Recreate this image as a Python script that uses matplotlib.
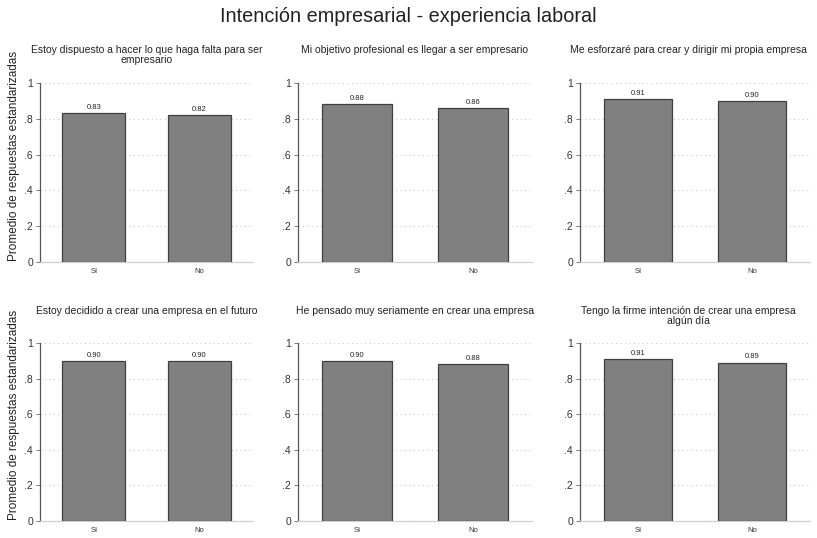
import matplotlib.pyplot as plt
import numpy as np

plt.rcParams['font.family'] = ['Liberation Sans', 'DejaVu Sans']

groups = ["Sí", "No"]
titles = ["Estoy dispuesto a hacer lo que haga falta para ser\nempresario",
          "Mi objetivo profesional es llegar a ser empresario",
          "Me esforzaré para crear y dirigir mi propia empresa",
          "Estoy decidido a crear una empresa en el futuro",
          "He pensado muy seriamente en crear una empresa",
          "Tengo la firme intención de crear una empresa\nalgún día"]
values = [[0.83, 0.82],
          [0.88, 0.86],
          [0.91, 0.90],
          [0.90, 0.90],
          [0.90, 0.88],
          [0.91, 0.89]]
yticks = [0, 0.2, 0.4, 0.6, 0.8, 1.0]
ytick_labels = ["0", ".2", ".4", ".6", ".8", "1"]
ylab = "Promedio de respuestas estandarizadas"

W, H = 817, 538
fig = plt.figure(figsize=(W / 100, H / 100), dpi=100)

# panel boxes in pixels: (left, right), (top, bottom)
cols = [(40, 253), (298, 532), (580, 810)]
rows = [(83, 262), (343, 521)]
title_top = [45, 306]
title_cx = [147, 415, 688]

fig.text(0.5, 1 - 16 / H, "Intención empresarial - experiencia laboral",
         ha="center", va="center", fontsize=14.3, color="#222222")

x = np.arange(len(groups))
for i in range(6):
    r, c = divmod(i, 3)
    l, rr = cols[c]
    t, b = rows[r]
    ax = fig.add_axes([l / W, 1 - b / H, (rr - l) / W, (b - t) / H])
    ax.bar(x, values[i], width=0.6, color="#808080", edgecolor="#404040",
           linewidth=0.9, zorder=3)
    for xi, v in zip(x, values[i]):
        ax.text(xi, v + 0.012, f"{v:.2f}", ha="center", va="bottom",
                fontsize=5.5, color="#222222")
    ax.set_xlim(-0.51, 1.51)
    ax.set_ylim(0, 1)
    ax.set_yticks(yticks)
    ax.set_yticklabels(ytick_labels, fontsize=7.5, color="#333333")
    ax.set_xticks(x)
    ax.set_xticklabels(groups, fontsize=5.5, color="#333333")
    ax.tick_params(axis="x", length=0, pad=4)
    ax.tick_params(axis="y", length=3, width=0.6, color="#666666", pad=2)
    for yv in yticks:
        ax.axhline(yv, color="#c8c8c8", linestyle=(0, (1, 3)), linewidth=0.8, zorder=1)
    for s in ["top", "right"]:
        ax.spines[s].set_visible(False)
    ax.spines["left"].set_color("#555555")
    ax.spines["left"].set_linewidth(0.9)
    ax.spines["bottom"].set_color("#d0d0d0")
    ax.spines["bottom"].set_linewidth(0.9)
    fig.text(title_cx[c] / W, 1 - title_top[r] / H, titles[i], ha="center", va="top",
             fontsize=7.5, color="#222222", linespacing=0.95)
    if c == 0:
        fig.text(14 / W, 1 - (b - 106) / H, ylab, rotation=90, ha="center",
                 va="center", fontsize=8.5, color="#222222")

fig.savefig("out.png", dpi=100, facecolor="white")
